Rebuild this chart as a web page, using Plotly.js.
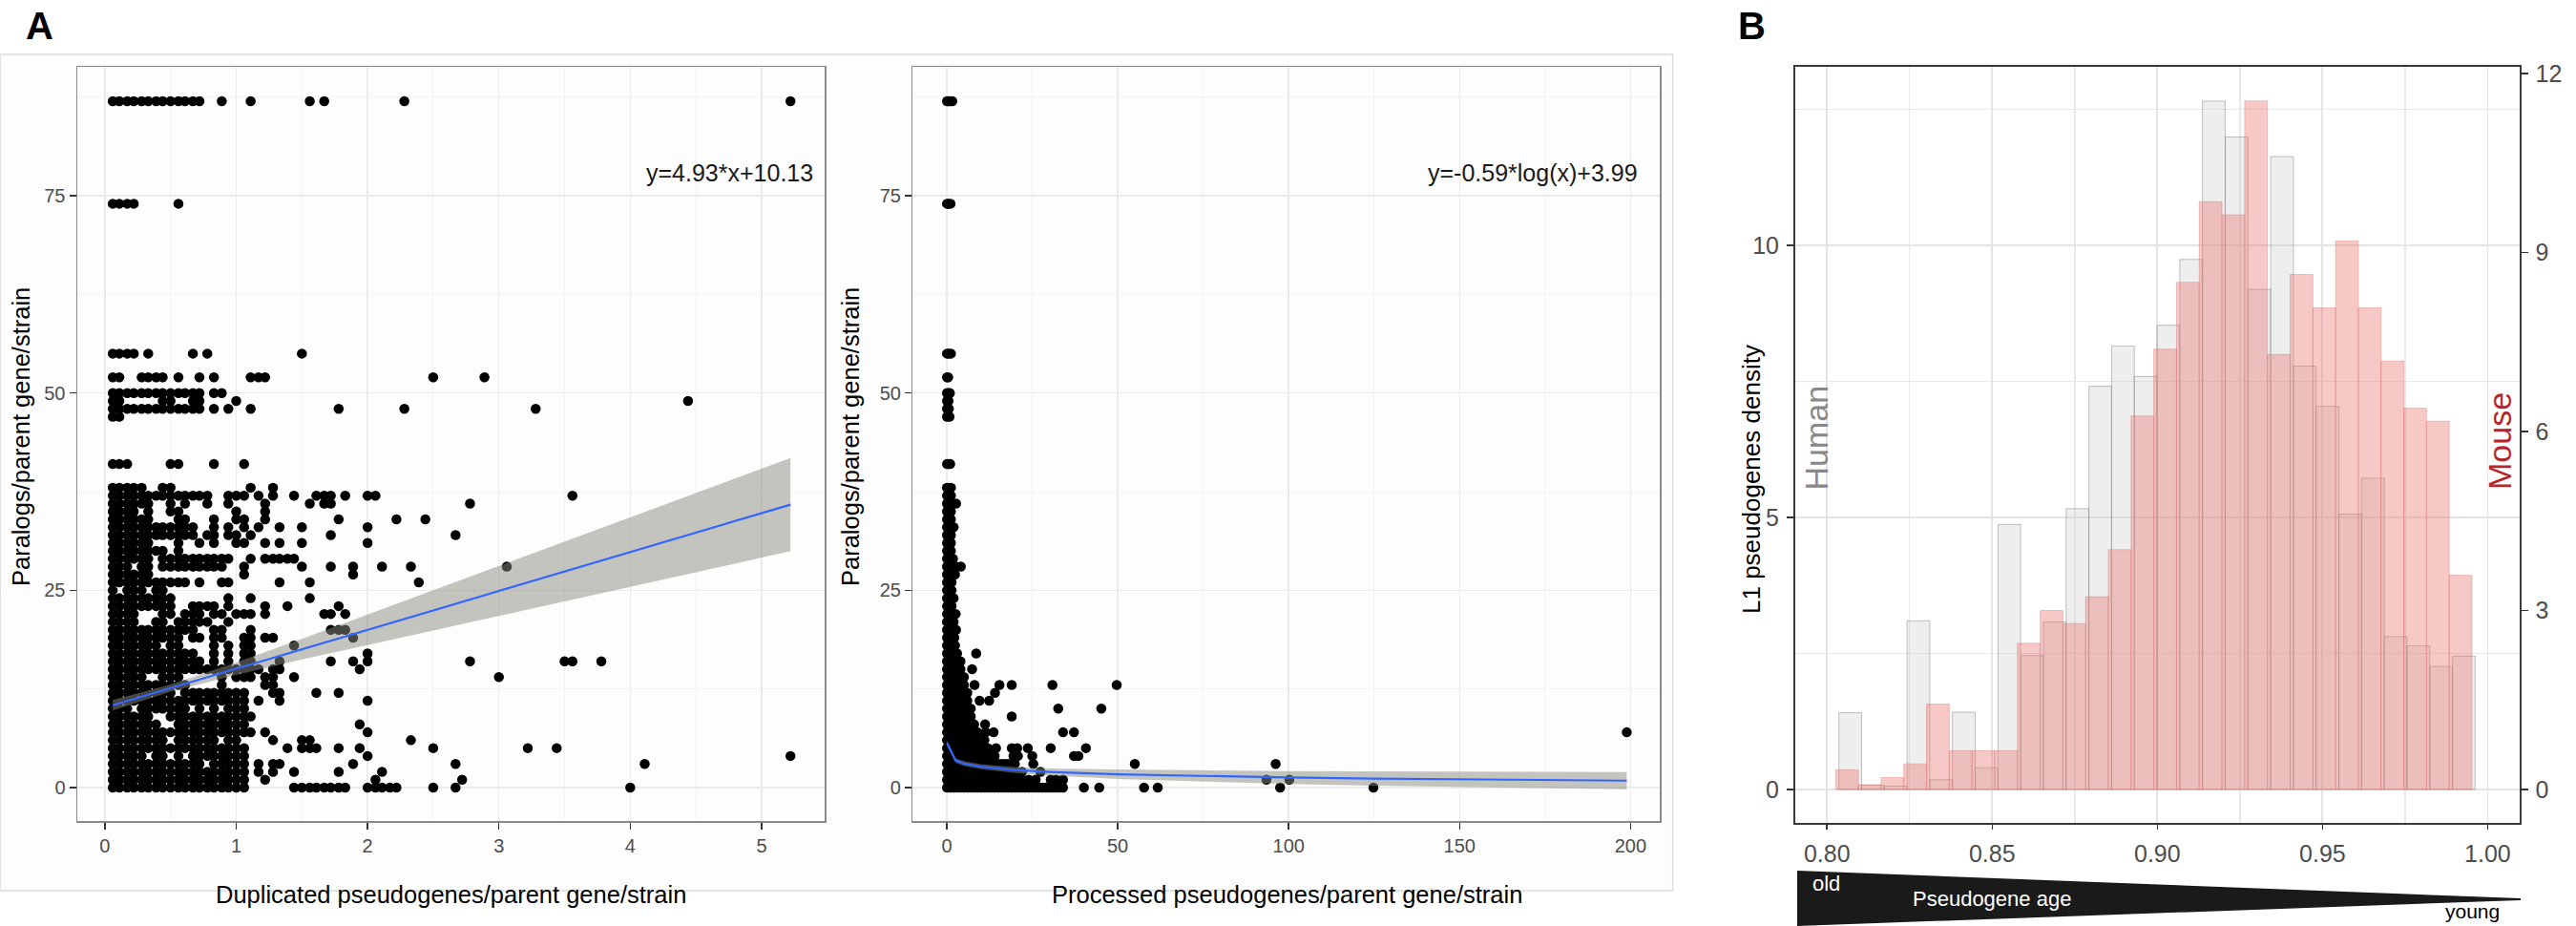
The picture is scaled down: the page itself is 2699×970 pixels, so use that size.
<!DOCTYPE html>
<html>
<head>
<meta charset="utf-8">
<script src="https://cdn.plot.ly/plotly-3.0.1.min.js"></script>
<style>html,body{margin:0;padding:0;background:#fff;}#chart{width:2699px;height:970px;}</style>
</head>
<body>
<div id="chart"></div>
<script>
// ---------------- DATA ----------------
// Panel A (left): duplicated pseudogenes/parent gene/strain (x) vs paralogs/parent gene/strain (y)
// each row: [y, [x values]]
const dupRows = [
 [87, [.06,.11,.17,.22,.28,.33,.39,.44,.5,.56,.61,.67,.72,.89,1.11,1.56,1.67,2.28,5.22]],
 [74, [.06,.11,.17,.22,.56]],
 [55, [.06,.11,.17,.22,.33,.67,.78,1.5]],
 [52, [.06,.11,.28,.33,.39,.44,.56,.72,.83,1.11,1.17,1.22,2.5,2.89]],
 [50, [.06,.11,.17,.22,.28,.33,.39,.44,.5,.56,.61,.67,.72,.83,.89]],
 [49, [.06,.11,.44,.5,.67,.72,1,4.44]],
 [48, [.06,.11,.17,.22,.28,.33,.39,.44,.5,.56,.61,.67,.72,.83,.94,1.11,1.78,2.28,3.28]],
 [47, [.06,.11]],
 [41, [.06,.11,.17,.5,.56,.83,1.06]],
 [38, [.06,.11,.17,.22,.28,.44,.5,1.11,1.28]],
 [37, [.06,.11,.17,.22,.28,.33,.39,.44,.5,.56,.61,.67,.72,.78,.94,1,1.06,1.17,1.28,1.44,1.61,1.67,1.72,1.83,2,2.06,3.56]],
 [36, [.06,.11,.17,.22,.28,.33,.5,.61,.78,.94,1.22,1.56,1.67,1.72,2.78]],
 [35, [.06,.11,.17,.22,.33,.5,.56,1,1.22]],
 [34, [.06,.11,.17,.22,.28,.33,.56,.61,.83,1,1.06,1.22,1.78,2.22,2.44]],
 [33, [.06,.11,.17,.22,.28,.33,.39,.44,.5,.56,.61,.67,.83,.94,1.06,1.17,1.33,1.5,2]],
 [32, [.06,.11,.17,.22,.28,.33,.39,.44,.5,.56,.61,.67,.78,.83,.94,1,1.11,1.72,2.67]],
 [31, [.06,.11,.17,.22,.28,.33,.56,.72,.83,1,1.06,1.22,1.33,1.5,2]],
 [30, [.06,.11,.17,.22,.28,.33,.39,.44,.56]],
 [29, [.06,.11,.17,.22,.28,.33,.44,.5,.56,.61,.67,.72,.78,.83,.89,.94,1.11,1.22,1.28,1.33,1.39,1.44]],
 [28, [.06,.11,.17,.28,.33,.44,.5,.56,.61,.67,.72,.78,.83,.89,1.06,1.5,1.72,1.89,2.11,2.33,3.06]],
 [27, [.06,.11,.17,.22,.28,.33,1.06,1.89]],
 [26, [.06,.11,.17,.22,.28,.33,.39,.44,.5,.56,.61,.72,.89,.94,1.33,1.56,2.39]],
 [25, [.06,.17,.22,.28,.39,.44]],
 [24, [.06,.11,.17,.22,.28,.33,.39,.44,.5,.94,1.11,1.56]],
 [23, [.06,.11,.17,.22,.28,.33,.39,.44,.5,.67,.72,.78,.83,.94,1.22,1.39,1.78]],
 [22, [.06,.11,.17,.22,.44,.5,.61,.67,.72,.83,.89,1,1.06,1.11,1.22,1.67,1.72,1.83]],
 [21, [.06,.11,.17,.22,.39,.44,.56,.61,.67,.72,.78,.94]],
 [20, [.06,.11,.17,.22,.28,.33,.39,.44,.5,.56,.61,.67,.83,.89,1.11,1.72,1.78,1.83]],
 [19, [.06,.11,.17,.22,.28,.33,.39,.44,.5,.56,.67,.72,.83,.89,1.06,1.11,1.22,1.28,1.89]],
 [18, [.06,.11,.17,.22,.28,.33,.39,.5,.56,.83,.94,1.06,1.11,1.44]],
 [17, [.06,.11,.17,.22,.28,.33,.39,.44,.5,.56,.61,.67,.83,.94,1.06,1.11,2]],
 [16, [.06,.11,.17,.22,.28,.33,.39,.44,.5,.56,.61,.67,.72,.83,.94,1.06,1.11,1.33,1.72,1.89,2,2.78,3.5,3.56,3.78]],
 [15, [.06,.11,.17,.22,.28,.33,.39,.44,.5,.56,.61,.67,.72,.78,.83,.89,.94,1,1.06,1.11,1.17,1.28,1.33,1.94]],
 [14, [.06,.11,.17,.22,.28,.44,.5,.56,.89,1,1.06,1.11,1.22,1.28,1.44,3]],
 [13, [.06,.11,.17,.22,.28,.33,.39,.44,.5,.56,.61,.89,1.22,1.28]],
 [12, [.06,.11,.17,.22,.28,.33,.39,.44,.5,.61,.67,.72,.78,.83,.89,.94,1,1.06,1.28,1.33,1.61,1.78]],
 [11, [.06,.11,.17,.22,.28,.33,.39,.44,.5,.56,.61,.67,.72,.78,.83,.89,.94,1,1.06,1.17,1.33,2]],
 [10, [.06,.11,.17,.28,.33,.39,.44,.5,.56,.61,.72,.83,.94,1,1.06]],
 [9,  [.06,.11,.17,.22,.28,.33,.5,.56,.61,.67,.72,.78,.83,.89,.94,1,1.06,1.11]],
 [8,  [.06,.11,.17,.22,.28,.33,.39,.56,.61,.67,.72,.78,.83,.89,.94,1,1.06,1.94]],
 [7,  [.06,.11,.17,.22,.28,.33,.39,.44,.5,.56,.61,.67,.72,.78,.83,.89,.94,1,1.06,1.11,1.22,2]],
 [6,  [.06,.11,.17,.22,.28,.33,.39,.44,.56,.61,.67,.72,.78,.83,.94,1,1.28,1.5,1.56,2.33]],
 [5,  [.06,.11,.17,.22,.28,.33,.39,.44,.5,.56,.61,.67,.72,.78,.83,.89,.94,1,1.06,1.39,1.5,1.56,1.61,1.78,1.94,2.5,3.22,3.44]],
 [4,  [.06,.11,.17,.22,.28,.39,.44,.56,.67,.72,.78,.83,.89,.94,1,1.06,2,5.22]],
 [3,  [.06,.11,.17,.22,.28,.33,.39,.44,.5,.56,.61,.67,.72,.83,.89,.94,1,1.06,1.17,1.28,1.33,1.89,2.67,4.11]],
 [2,  [.06,.11,.17,.22,.28,.33,.39,.44,.5,.56,.61,.67,.72,.78,.83,.89,.94,1,1.06,1.17,1.28,1.44,1.78,2.11]],
 [1,  [.06,.11,.17,.22,.28,.33,.39,.44,.5,.56,.61,.67,.72,.78,.83,.89,.94,1,1.06,1.22,2.06,2.72]],
 [0,  [.06,.11,.17,.22,.28,.33,.39,.44,.5,.56,.61,.67,.72,.78,.83,.89,.94,1,1.06,1.44,1.5,1.56,1.61,1.67,1.72,1.78,1.83,2,2.06,2.11,2.17,2.22,2.5,2.67,4]]
];
// linear fit y=4.93*x+10.13 and its confidence band
const dupFitX = [0.06, 0.5, 1, 1.5, 2, 2.5, 3, 3.5, 4, 4.5, 5, 5.22];
const dupFitY = [10.43, 12.6, 15.06, 17.53, 19.99, 22.46, 24.92, 27.39, 29.85, 32.32, 34.78, 35.86];
const dupLo   = [9.77, 12.15, 14.26, 16.23, 18.04, 19.91, 21.72, 23.59, 25.45, 27.27, 29.13, 29.96];
const dupHi   = [11.09, 13.05, 15.86, 18.83, 21.94, 25.01, 28.12, 31.19, 34.25, 37.37, 40.43, 41.76];

// Panel A (right): processed pseudogenes/parent gene/strain
const procRows = [
 [87, [.06,.5,1,1.6]],
 [74, [.06,.5,1.1]],
 [55, [.06,.6,1.2]],
 [52, [.06,.4]],
 [50, [.06,.5,.9]],
 [49, [.06,.5]],
 [48, [.06,.6]],
 [47, [.06,.8]],
 [41, [.06,.5,1]],
 [38, [.06,.6,1.2]],
 [37, [.06,.6,1.2]],
 [36, [.06,.6,1.2,2.7]],
 [35, [.06,.6,1.2]],
 [34, [.06,.6,1.2]],
 [33, [.06,.6,1.2,2]],
 [32, [.06,.6,1.2]],
 [31, [.06,.6,1.2]],
 [30, [.06,.6,1.2]],
 [29, [.06,.6,1.2,1.8]],
 [28, [.06,.6,1.2,2.7,4.1]],
 [27, [.06,.7,1.4,2.4]],
 [26, [.06,.7,1.4]],
 [25, [.06,.7,1.4]],
 [24, [.06,.7,1.4,2]],
 [23, [.06,.7,1.4]],
 [22, [.06,.7,1.4,2.6]],
 [21, [.06,.7,1.4,2]],
 [20, [.06,.7,1.4,2.7]],
 [19, [.06,.7,1.4,2.2]],
 [18, [.06,.8,1.6,2.4]],
 [17, [.06,1,2,3,8.6]],
 [16, [.06,1,2,3,4]],
 [15, [.06,1,2,3,4,7.4]],
 [14, [.06,1,2,3,4,5]],
 [13, [.06,1,2,3,4,5,8.1,15.4,19,30.9,49.7]],
 [12, [.06,1,2,3,4,5,6,14.1]],
 [11, [.06,1,2,3,4,5,6,9.6,12.4]],
 [10, [.06,1,2,3,4,5,6,7,32.6,45.2]],
 [9,  [.06,1,2,3,4,5,6,7,19]],
 [8,  [.06,1,2,3,4,5,6,7,8,11.2]],
 [7,  [.06,1,2,3,4,5,6,7,8,9,11.4,13.7,34,37.2,198.9]],
 [6,  [.06,1,2,3,4,5,6,7,8,9,10,11]],
 [5,  [.06,1,2,3,4,5,6,7,8,9,10,11,12,14.4,19,20.6,23.7,30.4,40.7]],
 [4,  [.06,1,2,3,4,5,6,7,8,9,10,11,12,13,14,19.5,20.8,25,37.2,38.5]],
 [3,  [.06,1,2,3,4,5,6,7,8,9,10,11,12,13,14,15,16,17,18,19.9,25.3,55,96.2]],
 [2,  [.06,1,2,3,4,5,6,7,8,9,10,11,12,13,14,15,16,17,18,19,20,22,27.4]],
 [1,  [.06,1,2,3,4,5,6,7,8,9,10,11,12,13,14,15,16,17,18,19,20,21,22,24,26,30.4,32,34,93.5,100.2]],
 [0,  [.06,1,2,3,4,5,6,7,8,9,10,11,12,13,14,15,16,17,18,19,20,21,22,23,24,25,26,27,28,29,30,31,32,33,34,40.1,44.6,57.7,61.7,97.5,124.8]]
];
// log fit y=-0.59*log(x)+3.99 and band
const procFitX = [0.06, 2.56, 5, 10, 20, 30, 50, 75, 100, 125, 150, 175, 198.9];
const procFitY = [5.65, 3.43, 3.04, 2.63, 2.22, 1.98, 1.68, 1.44, 1.27, 1.14, 1.03, 0.94, 0.87];
const procLo   = [5.3, 3.13, 2.74, 2.31, 1.84, 1.53, 1.08, 0.72, 0.45, 0.24, 0.06, -0.09, -0.21];
const procHi   = [6.0, 3.73, 3.34, 2.95, 2.6, 2.43, 2.28, 2.16, 2.09, 2.04, 2.0, 1.97, 1.95];

// Panel B: L1 pseudogene age histograms (density)
const binWidth = 0.00688;
const humanFirstCenter = 0.80704;
const mouseFirstCenter = 0.80605;
const humanDensity = [1.41,0.08,0.06,3.1,0.18,1.42,0.40,4.87,2.46,3.08,5.16,7.41,8.15,7.59,8.53,9.74,12.65,11.99,9.19,11.63,7.78,7.04,5.06,5.72,2.81,2.64,2.26,2.45];
const mouseDensity = [0.33,0.08,0.20,0.43,1.43,0.65,0.65,0.65,2.45,3.0,2.78,3.23,4.02,6.26,7.38,8.5,9.85,9.63,11.54,7.29,8.63,8.07,9.19,8.07,7.18,6.39,6.17,3.59];

// ---------------- RENDER ----------------
const W = 2699, H = 970;
const FONT = '"Liberation Sans", Arial, Helvetica, sans-serif';
const fx = v => v / W;
const fy = v => 1 - v / H;

function flatten(rows) {
  const xs = [], ys = [];
  rows.forEach(r => r[1].forEach(x => { xs.push(x); ys.push(r[0]); }));
  return {xs, ys};
}
const dup = flatten(dupRows);
const proc = flatten(procRows);

const band = 'rgba(140,140,130,0.5)';
const blue = '#3366FF';
const DOT = 10.5;

const traces = [
  {type:'scatter', mode:'markers', x:dup.xs, y:dup.ys, xaxis:'x', yaxis:'y',
   marker:{size:DOT, color:'#000'}, hoverinfo:'skip'},
  {type:'scatter', mode:'lines', x:dupFitX, y:dupLo, xaxis:'x', yaxis:'y', line:{width:0}, hoverinfo:'skip'},
  {type:'scatter', mode:'lines', x:dupFitX, y:dupHi, xaxis:'x', yaxis:'y', line:{width:0}, fill:'tonexty', fillcolor:band, hoverinfo:'skip'},
  {type:'scatter', mode:'lines', x:dupFitX, y:dupFitY, xaxis:'x', yaxis:'y', line:{color:blue, width:2.2}, hoverinfo:'skip'},

  {type:'scatter', mode:'markers', x:proc.xs, y:proc.ys, xaxis:'x2', yaxis:'y2',
   marker:{size:DOT, color:'#000'}, hoverinfo:'skip'},
  {type:'scatter', mode:'lines', x:procFitX, y:procLo, xaxis:'x2', yaxis:'y2', line:{width:0}, hoverinfo:'skip'},
  {type:'scatter', mode:'lines', x:procFitX, y:procHi, xaxis:'x2', yaxis:'y2', line:{width:0}, fill:'tonexty', fillcolor:band, hoverinfo:'skip'},
  {type:'scatter', mode:'lines', x:procFitX, y:procFitY, xaxis:'x2', yaxis:'y2', line:{color:blue, width:2.2}, hoverinfo:'skip'},

  {type:'bar', x0:humanFirstCenter, dx:binWidth, y:humanDensity, width:binWidth, xaxis:'x3', yaxis:'y3',
   marker:{color:'rgba(200,200,200,0.3)', line:{color:'rgba(120,120,120,0.45)', width:1}}, hoverinfo:'skip'},
  {type:'bar', x0:mouseFirstCenter, dx:binWidth, y:mouseDensity, width:binWidth, xaxis:'x3', yaxis:'y4',
   marker:{color:'rgba(232,120,115,0.4)', line:{color:'rgba(215,105,100,0.35)', width:1}}, hoverinfo:'skip'}
];

const tfA = {family:FONT, size:20, color:'#4d4d4d'};
const tfB = {family:FONT, size:25, color:'#4d4d4d'};
const gridA = {showgrid:true, gridcolor:'#ebebeb', gridwidth:1.5};
const commonA = Object.assign({ticks:'outside', ticklen:7, tickwidth:1.5, tickcolor:'#333',
  showline:true, linecolor:'#8a8a8a', linewidth:1.5, mirror:true, zeroline:false,
  tickfont:tfA, fixedrange:true}, gridA);

const yDomA = [1 - 860/H, 1 - 70/H];
const yDomB = [1 - 861.7/H, 1 - 70/H];

const layout = {
  width:W, height:H, margin:{l:0, r:0, t:0, b:0},
  paper_bgcolor:'#fff', plot_bgcolor:'#fff',
  showlegend:false, barmode:'overlay', bargap:0,
  font:{family:FONT},
  xaxis: Object.assign({}, commonA, {domain:[fx(81), fx(864)], range:[-0.21, 5.48], anchor:'y',
    tickmode:'linear', tick0:0, dtick:1,
    minor:{tick0:0, dtick:0.5, showgrid:true, gridcolor:'#f4f4f4', gridwidth:1, ticks:''}}),
  yaxis: Object.assign({}, commonA, {domain:yDomA, range:[-4.24, 91.35], anchor:'x',
    tickmode:'linear', tick0:0, dtick:25,
    minor:{tick0:0, dtick:12.5, showgrid:true, gridcolor:'#f4f4f4', gridwidth:1, ticks:''}}),
  xaxis2: Object.assign({}, commonA, {domain:[fx(956.4), fx(1739.4)], range:[-9.94, 208.66], anchor:'y2',
    tickmode:'linear', tick0:0, dtick:50,
    minor:{tick0:0, dtick:25, showgrid:true, gridcolor:'#f4f4f4', gridwidth:1, ticks:''}}),
  yaxis2: Object.assign({}, commonA, {domain:yDomA, range:[-4.24, 91.35], anchor:'x2',
    tickmode:'linear', tick0:0, dtick:25,
    minor:{tick0:0, dtick:12.5, showgrid:true, gridcolor:'#f4f4f4', gridwidth:1, ticks:''}}),
  xaxis3: {domain:[fx(1880.5), fx(2640)], range:[0.79026, 1.0097], anchor:'y3',
    tickmode:'linear', tick0:0.8, dtick:0.05, tickformat:'.2f',
    ticks:'outside', ticklen:5, tickwidth:1.5, tickcolor:'#333', ticklabelstandoff:4,
    showline:true, linecolor:'#3a3a3a', linewidth:2, mirror:true, zeroline:false,
    showgrid:true, gridcolor:'#e4e4e4', gridwidth:1.8,
    minor:{tick0:0.8, dtick:0.025, showgrid:true, gridcolor:'#e8e8e8', gridwidth:1.5, ticks:''},
    tickfont:tfB, fixedrange:true},
  yaxis3: {domain:yDomB, range:[-0.609, 13.28], anchor:'x3',
    tickmode:'linear', tick0:0, dtick:5,
    ticks:'outside', ticklen:7, tickwidth:1.5, tickcolor:'#333', ticklabelstandoff:3,
    showline:true, linecolor:'#3a3a3a', linewidth:1.5, zeroline:false,
    showgrid:true, gridcolor:'#e4e4e4', gridwidth:1.8,
    minor:{tick0:0, dtick:2.5, showgrid:true, gridcolor:'#e8e8e8', gridwidth:1.5, ticks:''},
    tickfont:tfB, fixedrange:true},
  yaxis4: {overlaying:'y3', side:'right', anchor:'x3', range:[-0.555, 12.11],
    tickmode:'linear', tick0:0, dtick:3,
    ticks:'outside', ticklen:7, tickwidth:1.5, tickcolor:'#333', ticklabelstandoff:3,
    showline:true, linecolor:'#3a3a3a', linewidth:1.5, zeroline:false, showgrid:false,
    tickfont:tfB, fixedrange:true},
  shapes: [
    {type:'rect', xref:'paper', yref:'paper', x0:0, x1:fx(1752.6), y0:fy(933), y1:fy(57),
     fillcolor:'#fdfdfd', line:{color:'#dcdcdc', width:1.5}, layer:'below'},
    {type:'path', xref:'paper', yref:'paper',
     path:'M '+fx(1883)+','+fy(912)+' L '+fx(2641)+','+fy(941)+' L '+fx(2641)+','+fy(943)+' L '+fx(1883)+','+fy(970)+' Z',
     fillcolor:'#1a1a1a', line:{width:0}, layer:'above'}
  ],
  annotations: []
};

function ann(text, x, y, size, opts) {
  return Object.assign({text:text, x:fx(x), y:fy(y), xref:'paper', yref:'paper', showarrow:false,
    xanchor:'center', yanchor:'middle', font:{family:FONT, size:size, color:'#000'}}, opts || {});
}
layout.annotations.push(
  ann('<b>A</b>', 41, 27, 40),
  ann('<b>B</b>', 1835, 27, 40),
  ann('y=4.93*x+10.13', 854, 181, 25, {xanchor:'right', font:{family:FONT, size:25, color:'#1a1a1a'}}),
  ann('y=-0.59*log(x)+3.99', 1718, 181, 25, {xanchor:'right', font:{family:FONT, size:25, color:'#1a1a1a'}}),
  ann('Duplicated pseudogenes/parent gene/strain', 472, 937, 25.5),
  ann('Processed pseudogenes/parent gene/strain', 1348, 937, 25.5),
  ann('Paralogs/parent gene/strain', 22, 458, 25.5, {textangle:-90}),
  ann('Paralogs/parent gene/strain', 891, 458, 25.5, {textangle:-90}),
  ann('L1 pseudogenes density', 1835, 502, 26, {textangle:-90}),
  ann('Human', 1902.5, 459, 34, {textangle:-90, font:{family:FONT, size:34, color:'#888888'}}),
  ann('Mouse', 2619, 462, 34, {textangle:-90, font:{family:FONT, size:34, color:'#b5252b'}}),
  ann('old', 1913, 925, 22, {font:{family:FONT, size:22, color:'#ffffff'}}),
  ann('Pseudogene age', 2087, 941, 22, {font:{family:FONT, size:22, color:'#ffffff'}}),
  ann('young', 2590, 954, 21, {font:{family:FONT, size:21, color:'#000000'}})
);

Plotly.newPlot('chart', traces, layout, {staticPlot:true, displayModeBar:false});
</script>
</body>
</html>
